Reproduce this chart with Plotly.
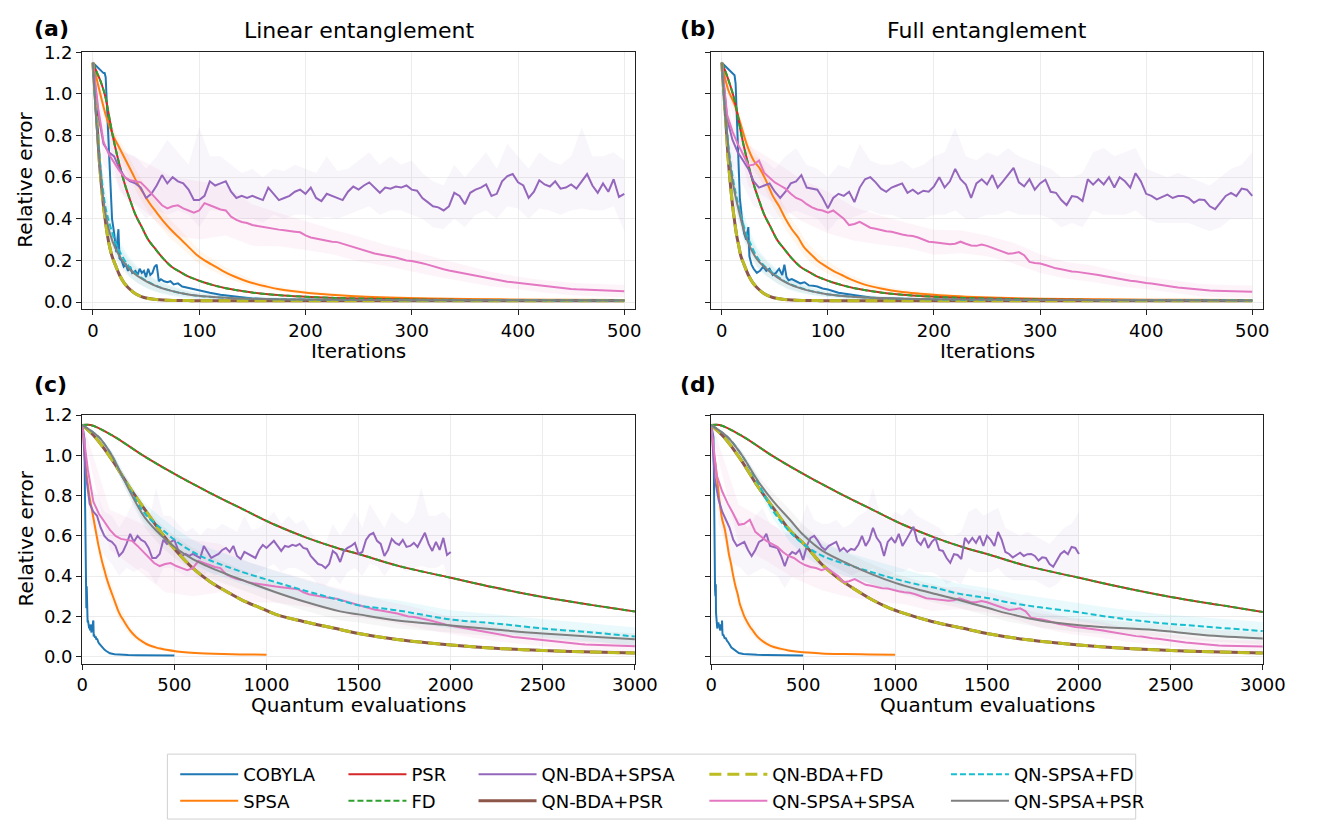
import numpy as np
import plotly.graph_objects as go

# ---------------- data ----------------
evals_per_iter = {"COBYLA": 1, "SPSA": 2, "QN-BDA+SPSA": 4, "QN-SPSA+SPSA": 6}

# --- panel (a): linear entanglement, vs iterations ---
cob_a_it = [0,2,4,6,8,10,11,12,14,16,18,20,22,24,25,27,29,31,33,35,37,40,42,44,46,48,50,52,54,56,58,60,62,64,67,70,73,76,80,84,88,92,96,100,110,120,130,140,150,175,200,250,300,400,500]
cob_a_err = [1.15,1.14,1.13,1.12,1.11,1.10,1.10,1.08,0.85,0.60,0.40,0.33,0.24,0.35,0.21,0.20,0.17,0.18,0.15,0.17,0.14,0.15,0.13,0.16,0.14,0.15,0.12,0.16,0.13,0.14,0.17,0.18,0.10,0.11,0.10,0.095,0.10,0.085,0.09,0.075,0.07,0.065,0.06,0.055,0.045,0.035,0.028,0.022,0.017,0.012,0.01,0.008,0.007,0.006,0.006]

spsa_a_it = [0,6,12,19,25,31,37,43,49,54,60,66,73,81,89,97,105,112,122,132,142,151,163,174,187,201,215,228,257,286,335,383,440,500]
spsa_a_err = [1.15,1.02,0.9,0.80,0.74,0.68,0.62,0.56,0.51,0.47,0.43,0.39,0.35,0.31,0.27,0.23,0.20,0.18,0.15,0.125,0.105,0.09,0.075,0.063,0.053,0.045,0.039,0.034,0.026,0.021,0.016,0.013,0.011,0.01]
spsa_a_sd = [0,0.02,0.03,0.035,0.04,0.045,0.05,0.05,0.05,0.05,0.05,0.045,0.045,0.04,0.04,0.035,0.03,0.03,0.025,0.02,0.02,0.015,0.015,0.012,0.01,0.01,0.008,0.008,0.006,0.005,0.004,0.003,0.003,0.003]

psr_a_it = [0,4,8,12,16,19,23,27,31,35,40,46,52,58,66,74,82,89,96,104,114,124,137,151,170,190,210,228,260,306,360,420,500]
psr_a_err = [1.15,1.10,1.05,0.98,0.87,0.79,0.70,0.62,0.55,0.49,0.42,0.36,0.30,0.26,0.21,0.17,0.145,0.125,0.11,0.095,0.08,0.068,0.056,0.045,0.035,0.028,0.023,0.02,0.016,0.012,0.01,0.009,0.008]

qbp_a_it = [0,2,4,6,8,10,12,14,16,18,21,25,29,34,40,48,57,70,90,120,200,300,500]
qbp_a_err = [1.15,1.0,0.85,0.68,0.56,0.46,0.38,0.31,0.26,0.22,0.18,0.13,0.095,0.065,0.04,0.022,0.014,0.009,0.007,0.006,0.006,0.006,0.006]

qs_a_it = [0,3,6,9,12,16,21,27,34,42,52,62,73,86,99,120,150,200,300,500]
qsp_a_err = [1.15,0.88,0.68,0.52,0.42,0.33,0.26,0.205,0.16,0.125,0.095,0.072,0.055,0.04,0.03,0.022,0.016,0.012,0.009,0.008]
qsp_a_sd = [0,0.03,0.05,0.06,0.06,0.06,0.05,0.05,0.04,0.035,0.03,0.025,0.02,0.015,0.012,0.01,0.008,0.005,0.003,0.002]
qsf_a_err = [1.15,0.9,0.71,0.56,0.45,0.37,0.29,0.225,0.17,0.13,0.097,0.073,0.055,0.04,0.03,0.022,0.016,0.012,0.009,0.008]
qsf_a_sd = [0,0.04,0.07,0.08,0.08,0.07,0.06,0.05,0.045,0.04,0.035,0.03,0.025,0.02,0.015,0.012,0.01,0.006,0.004,0.003]

iters5 = list(range(0, 501, 5))
iters10 = list(range(0, 501, 10))
iters25 = list(range(0, 501, 25))

qbs_a_err = [1.15,0.90,0.76,0.72,0.70,0.64,0.60,0.58,0.57,0.55,0.50,0.52,0.56,0.61,0.57,0.60,0.58,0.57,0.54,0.49,
             0.49,0.51,0.58,0.56,0.57,0.58,0.53,0.50,0.51,0.50,0.51,0.50,0.49,0.55,0.52,0.49,0.50,0.51,0.53,0.54,
             0.52,0.55,0.50,0.485,0.52,0.51,0.50,0.49,0.53,0.555,0.54,0.56,0.575,0.55,0.525,0.55,0.545,0.555,0.55,0.56,
             0.54,0.535,0.50,0.48,0.46,0.455,0.44,0.46,0.525,0.51,0.47,0.525,0.54,0.55,0.565,0.51,0.52,0.58,0.605,0.615,
             0.575,0.56,0.50,0.53,0.585,0.565,0.555,0.58,0.545,0.55,0.565,0.545,0.58,0.615,0.56,0.525,0.57,0.53,0.59,0.505,0.52]
qbs_a_hi = [1.18,0.86,0.80,0.72,0.70,0.64,0.70,0.78,0.72,0.66,0.84,0.70,0.70,0.66,0.62,0.64,0.60,0.64,0.63,0.66,
            0.64,0.62,0.70,0.63,0.64,0.68,0.72,0.66,0.70,0.66,0.68,0.62,0.58,0.56,0.66,0.60,0.66,0.72,0.64,0.76,
            0.70,0.64,0.72,0.68,0.66,0.70,0.84,0.70,0.70,0.72,0.68]
qbs_a_lo = [1.12,0.66,0.60,0.50,0.46,0.40,0.44,0.42,0.44,0.42,0.36,0.44,0.44,0.42,0.40,0.40,0.38,0.42,0.40,0.42,
            0.42,0.40,0.41,0.40,0.42,0.44,0.46,0.42,0.44,0.44,0.42,0.40,0.36,0.35,0.40,0.36,0.42,0.44,0.40,0.46,
            0.45,0.40,0.45,0.44,0.42,0.44,0.45,0.44,0.44,0.46,0.34]

qss_a_err = [1.15,0.93,0.77,0.71,0.67,0.63,0.60,0.585,0.58,0.575,0.55,0.52,0.49,0.465,0.45,0.46,0.465,0.45,0.44,0.43,
             0.44,0.475,0.465,0.455,0.445,0.44,0.41,0.395,0.385,0.38,0.37,0.365,0.36,0.355,0.35,0.348,0.345,0.34,0.338,0.335,
             0.32,0.31,0.305,0.297,0.293,0.29,0.288,0.28,0.27,0.262,0.255,0.247,0.24,0.233,0.229,0.225,0.22,0.214,0.207,0.2,
             0.197,0.19,0.186,0.18,0.172,0.165,0.158,0.152,0.147,0.142,0.138,0.132,0.126,0.12,0.115,0.11,0.105,0.101,0.098,0.095,
             0.092,0.088,0.085,0.081,0.078,0.075,0.072,0.069,0.067,0.065,0.063,0.061,0.06,0.058,0.057,0.056,0.055,0.054,0.053,0.052,0.052]
qss_a_sd = [0.02,0.10,0.12,0.14,0.14,0.12,0.10,0.08,0.07,0.06,0.06,0.05,0.05,0.045,0.04,0.035,0.03,0.03,0.03,0.03,0.03]

# --- panel (b): full entanglement, vs iterations ---
cob_b_it = [0,2,4,6,8,10,12,13,15,17,19,21,23,25,26,28,30,33,36,39,42,45,48,51,54,57,59,61,63,66,70,74,78,82,86,90,95,100,110,120,130,140,150,175,200,250,300,400,500]
cob_b_err = [1.15,1.14,1.13,1.12,1.11,1.10,1.09,1.05,0.75,0.50,0.40,0.33,0.30,0.36,0.22,0.18,0.16,0.14,0.15,0.17,0.15,0.16,0.13,0.14,0.16,0.13,0.18,0.12,0.105,0.11,0.10,0.09,0.095,0.08,0.078,0.075,0.065,0.06,0.045,0.038,0.028,0.022,0.018,0.013,0.011,0.009,0.008,0.007,0.006]

spsa_b_it = [0,6,12,18,24,30,36,42,48,54,60,66,72,78,84,90,97,105,113,121,134,150,170,187,210,230,260,300,360,430,500]
spsa_b_err = [1.15,1.02,0.95,0.85,0.75,0.68,0.64,0.58,0.51,0.46,0.40,0.35,0.31,0.26,0.23,0.2,0.175,0.15,0.13,0.11,0.085,0.065,0.048,0.04,0.031,0.026,0.021,0.016,0.013,0.011,0.01]
spsa_b_sd = [0,0.02,0.03,0.04,0.04,0.045,0.05,0.05,0.05,0.05,0.05,0.045,0.045,0.04,0.04,0.035,0.03,0.03,0.025,0.02,0.018,0.015,0.012,0.01,0.008,0.007,0.006,0.005,0.004,0.003,0.003]

psr_b_it = [0,4,8,12,16,19,23,27,31,35,40,46,52,58,66,74,82,89,96,104,114,124,137,151,170,190,210,228,260,306,360,420,500]
psr_b_err = [1.15,1.10,1.04,0.97,0.87,0.79,0.70,0.62,0.55,0.49,0.42,0.36,0.30,0.26,0.21,0.17,0.145,0.125,0.11,0.095,0.08,0.068,0.056,0.045,0.035,0.028,0.023,0.02,0.016,0.012,0.01,0.009,0.008]

qbp_b_it = [0,2,4,6,8,10,12,14,16,18,21,25,29,34,40,48,57,70,90,120,200,300,500]
qbp_b_err = [1.15,1.0,0.85,0.69,0.57,0.47,0.39,0.32,0.27,0.22,0.18,0.13,0.095,0.065,0.04,0.022,0.014,0.009,0.007,0.006,0.006,0.006,0.006]

qs_b_it = [0,3,6,9,12,16,21,27,34,42,52,62,73,86,99,120,150,200,300,500]
qsp_b_err = [1.15,0.92,0.75,0.62,0.53,0.44,0.34,0.26,0.2,0.16,0.12,0.09,0.068,0.05,0.038,0.027,0.019,0.013,0.01,0.008]
qsp_b_sd = [0,0.03,0.05,0.06,0.06,0.06,0.05,0.05,0.04,0.035,0.03,0.025,0.02,0.015,0.012,0.01,0.008,0.005,0.003,0.002]
qsf_b_err = [1.15,0.92,0.76,0.64,0.55,0.46,0.36,0.28,0.21,0.165,0.125,0.092,0.07,0.051,0.038,0.027,0.019,0.013,0.01,0.008]
qsf_b_sd = [0,0.04,0.07,0.08,0.08,0.07,0.06,0.05,0.045,0.04,0.035,0.03,0.025,0.02,0.015,0.012,0.01,0.006,0.004,0.003]

qbs_b_err = [1.15,0.88,0.78,0.72,0.68,0.64,0.58,0.55,0.56,0.57,0.53,0.50,0.53,0.57,0.58,0.61,0.55,0.545,0.54,0.50,
             0.45,0.50,0.52,0.51,0.53,0.48,0.55,0.59,0.60,0.575,0.545,0.53,0.55,0.56,0.57,0.525,0.54,0.52,0.535,0.53,
             0.556,0.60,0.55,0.58,0.64,0.59,0.565,0.50,0.57,0.59,0.565,0.61,0.55,0.58,0.61,0.645,0.575,0.556,0.59,0.54,
             0.57,0.588,0.53,0.525,0.49,0.466,0.509,0.505,0.485,0.59,0.564,0.59,0.565,0.60,0.55,0.60,0.58,0.55,0.619,0.58,
             0.52,0.51,0.493,0.505,0.516,0.50,0.509,0.51,0.50,0.477,0.493,0.49,0.46,0.446,0.477,0.51,0.524,0.509,0.545,0.54,0.51]
qbs_b_hi = [1.18,0.86,0.76,0.70,0.68,0.64,0.70,0.74,0.66,0.64,0.60,0.66,0.64,0.76,0.68,0.66,0.66,0.68,0.64,0.66,
            0.70,0.72,0.84,0.70,0.68,0.72,0.70,0.74,0.70,0.68,0.66,0.64,0.60,0.60,0.62,0.72,0.74,0.70,0.72,0.74,
            0.64,0.62,0.60,0.62,0.60,0.58,0.56,0.60,0.64,0.66,0.72]
qbs_b_lo = [1.12,0.66,0.56,0.46,0.44,0.40,0.42,0.44,0.42,0.40,0.34,0.40,0.40,0.42,0.44,0.42,0.42,0.40,0.40,0.40,
            0.42,0.42,0.44,0.40,0.40,0.42,0.42,0.44,0.42,0.42,0.42,0.40,0.36,0.38,0.36,0.44,0.42,0.42,0.42,0.44,
            0.40,0.38,0.38,0.38,0.38,0.36,0.34,0.36,0.40,0.40,0.40]

qss_b_err = [1.15,0.90,0.82,0.76,0.71,0.655,0.66,0.68,0.62,0.595,0.575,0.56,0.545,0.52,0.50,0.49,0.47,0.455,0.445,0.44,
             0.43,0.44,0.42,0.40,0.37,0.375,0.385,0.37,0.357,0.352,0.345,0.34,0.338,0.33,0.325,0.32,0.317,0.31,0.30,0.29,
             0.287,0.285,0.28,0.278,0.28,0.29,0.28,0.272,0.27,0.276,0.27,0.26,0.25,0.24,0.232,0.235,0.24,0.225,0.193,0.188,
             0.185,0.178,0.17,0.162,0.158,0.152,0.147,0.145,0.142,0.139,0.136,0.13,0.125,0.12,0.115,0.11,0.105,0.102,0.10,0.095,
             0.092,0.089,0.086,0.082,0.078,0.074,0.07,0.067,0.064,0.061,0.058,0.056,0.055,0.054,0.053,0.052,0.052,0.051,0.051,0.05,0.05]
qss_b_sd = [0.02,0.10,0.10,0.10,0.10,0.08,0.07,0.06,0.06,0.055,0.05,0.05,0.045,0.04,0.04,0.035,0.03,0.03,0.03,0.03,0.03]

# --- panels (c)/(d): vs quantum evaluations (gradient-based methods) ---
psr_c_ev = [0,46,160,340,515,690,870,1045,1220,1400,1500,1710,2000,2240,2500,2770,3000]
psr_c_err = [1.15,1.15,1.100,0.993,0.90,0.815,0.733,0.655,0.59,0.535,0.51,0.452,0.392,0.343,0.296,0.256,0.224]
psr_d_ev = [0,46,160,340,515,690,870,1045,1220,1400,1500,1710,2000,2240,2500,2770,3000]
psr_d_err = [1.15,1.15,1.100,0.993,0.90,0.815,0.733,0.655,0.59,0.535,0.51,0.452,0.392,0.343,0.296,0.256,0.222]

qbp_c_ev = [0,70,160,250,340,430,515,600,690,780,870,960,1050,1200,1400,1500,1710,2000,2240,2500,2770,3000]
qbp_c_err = [1.15,1.09,0.98,0.85,0.73,0.615,0.52,0.44,0.375,0.325,0.28,0.245,0.21,0.175,0.135,0.115,0.085,0.058,0.042,0.031,0.023,0.018]
qbp_d_err = [1.15,1.09,0.98,0.85,0.735,0.625,0.55,0.46,0.39,0.335,0.285,0.245,0.215,0.175,0.135,0.115,0.085,0.058,0.042,0.031,0.023,0.018]

qs_c_ev = [0,90,160,215,270,340,430,515,600,690,870,1050,1200,1400,1500,1710,2000,2240,2500,2770,3000]
qsp_c_err = [1.15,1.09,1.00,0.90,0.80,0.69,0.60,0.535,0.485,0.445,0.38,0.32,0.275,0.225,0.21,0.18,0.155,0.135,0.115,0.099,0.086]
qsp_c_sd = [0,0.01,0.02,0.03,0.04,0.05,0.055,0.055,0.055,0.055,0.05,0.05,0.045,0.045,0.04,0.04,0.035,0.035,0.03,0.03,0.03]
qsf_c_err = [1.15,1.09,1.00,0.90,0.81,0.71,0.635,0.57,0.52,0.48,0.42,0.37,0.33,0.28,0.255,0.23,0.185,0.165,0.14,0.12,0.10]
qsf_c_sd = [0,0.01,0.02,0.03,0.04,0.05,0.055,0.06,0.06,0.06,0.06,0.055,0.055,0.05,0.05,0.05,0.045,0.045,0.045,0.045,0.045]

qs_d_ev = [0,90,167,256,339,428,500,606,748,872,1005,1139,1227,1334,1511,1611,1789,2002,2144,2410,2677,3000]
qsp_d_err = [1.15,1.09,1.00,0.87,0.77,0.68,0.605,0.525,0.46,0.41,0.365,0.33,0.31,0.285,0.24,0.215,0.18,0.156,0.146,0.132,0.108,0.09]
qsp_d_sd = [0,0.01,0.02,0.03,0.04,0.05,0.05,0.05,0.05,0.05,0.045,0.045,0.045,0.04,0.04,0.04,0.035,0.035,0.035,0.03,0.03,0.03]
qsf_d_err = [1.15,1.09,1.00,0.86,0.72,0.62,0.56,0.50,0.455,0.42,0.385,0.355,0.34,0.315,0.29,0.27,0.245,0.22,0.20,0.17,0.15,0.127]
qsf_d_sd = [0,0.01,0.02,0.03,0.04,0.05,0.055,0.06,0.06,0.06,0.06,0.055,0.055,0.05,0.05,0.05,0.05,0.045,0.045,0.045,0.045,0.045]

x_ticks_it = [0, 100, 200, 300, 400, 500]
x_ticks_ev = [0, 500, 1000, 1500, 2000, 2500, 3000]
y_ticks = [0.0, 0.2, 0.4, 0.6, 0.8, 1.0, 1.2]

# ---------------- styling ----------------
W, H = 1324, 824
FONT = "DejaVu Sans"
STY = {
    "COBYLA":       dict(color="#1f77b4", width=2,   dash="solid",     legend="legend",  shape="linear"),
    "SPSA":         dict(color="#ff7f0e", width=2,   dash="solid",     legend="legend",  shape="spline"),
    "PSR":          dict(color="#d62728", width=2,   dash="solid",     legend="legend2", shape="spline"),
    "FD":           dict(color="#2ca02c", width=2,   dash="6px,3px",   legend="legend2", shape="spline"),
    "QN-BDA+SPSA":  dict(color="#9467bd", width=2,   dash="solid",     legend="legend3", shape="linear"),
    "QN-BDA+PSR":   dict(color="#8c564b", width=3,   dash="solid",     legend="legend3", shape="spline"),
    "QN-BDA+FD":    dict(color="#bcbd22", width=3,   dash="12px,6px",  legend="legend4", shape="spline"),
    "QN-SPSA+SPSA": dict(color="#e377c2", width=2,   dash="solid",     legend="legend4", shape="linear"),
    "QN-SPSA+FD":   dict(color="#17becf", width=2,   dash="6px,3px",   legend="legend5", shape="spline"),
    "QN-SPSA+PSR":  dict(color="#7f7f7f", width=2,   dash="solid",     legend="legend5", shape="spline"),
}

def rgba(hexc, a):
    h = hexc.lstrip("#")
    return "rgba(%d,%d,%d,%.3f)" % (int(h[0:2], 16), int(h[2:4], 16), int(h[4:6], 16), a)

fig = go.Figure()

def band(ax, x, lo, hi, name, alpha=0.10):
    x = list(x)
    fig.add_trace(go.Scatter(
        x=x + x[::-1], y=list(lo) + list(hi)[::-1], xaxis="x" + ax, yaxis="y" + ax,
        fill="toself", fillcolor=rgba(STY[name]["color"], alpha), line=dict(width=0),
        mode="lines", hoverinfo="skip", showlegend=False))

def band_sd(ax, x, m, sd, name, alpha=0.10):
    m = np.array(m); sd = np.array(sd)
    band(ax, x, m - sd, m + sd, name, alpha)

def line(ax, x, y, name, show=False):
    s = STY[name]
    fig.add_trace(go.Scatter(
        x=list(x), y=list(y), xaxis="x" + ax, yaxis="y" + ax, mode="lines", name=name,
        line=dict(color=s["color"], width=s["width"], dash=s["dash"], shape=s["shape"]),
        legend=s["legend"], legendgroup=name, showlegend=show))

def panel(ax, data, show):
    (cob_x, cob_y, sp_x, sp_y, sp_sd, psr_x, psr_y, qbs_x, qbs_y, qbs_bx, qbs_lo, qbs_hi,
     qbp_x, qbp_y, qss_x, qss_y, qss_bx, qss_bm, qss_sd, qs_x, qsf_y, qsf_sd, qsp_y, qsp_sd) = data
    band_sd(ax, sp_x, sp_y, sp_sd, "SPSA", 0.07)
    band(ax, qbs_bx, qbs_lo, qbs_hi, "QN-BDA+SPSA", 0.06)
    band_sd(ax, qss_bx, qss_bm, qss_sd, "QN-SPSA+SPSA", 0.08)
    band_sd(ax, qs_x, qsf_y, qsf_sd, "QN-SPSA+FD", 0.09)
    band_sd(ax, qs_x, qsp_y, qsp_sd, "QN-SPSA+PSR", 0.07)
    line(ax, cob_x, cob_y, "COBYLA", show)
    line(ax, sp_x, sp_y, "SPSA", show)
    line(ax, psr_x, psr_y, "PSR", show)
    line(ax, psr_x, psr_y, "FD", show)
    line(ax, qbs_x, qbs_y, "QN-BDA+SPSA", show)
    line(ax, qbp_x, qbp_y, "QN-BDA+PSR", show)
    line(ax, qbp_x, qbp_y, "QN-BDA+FD", show)
    line(ax, qss_x, qss_y, "QN-SPSA+SPSA", show)
    line(ax, qs_x, qsf_y, "QN-SPSA+FD", show)
    line(ax, qs_x, qsp_y, "QN-SPSA+PSR", show)

def ev(it, name):
    return np.array(it) * evals_per_iter[name]

qss_a_bm = qss_a_err[::5]
qss_b_bm = qss_b_err[::5]

panel("", (cob_a_it, cob_a_err, spsa_a_it, spsa_a_err, spsa_a_sd, psr_a_it, psr_a_err,
           iters5, qbs_a_err, iters10, qbs_a_lo, qbs_a_hi, qbp_a_it, qbp_a_err,
           iters5, qss_a_err, iters25, qss_a_bm, qss_a_sd,
           qs_a_it, qsf_a_err, qsf_a_sd, qsp_a_err, qsp_a_sd), True)
panel("2", (cob_b_it, cob_b_err, spsa_b_it, spsa_b_err, spsa_b_sd, psr_b_it, psr_b_err,
            iters5, qbs_b_err, iters10, qbs_b_lo, qbs_b_hi, qbp_b_it, qbp_b_err,
            iters5, qss_b_err, iters25, qss_b_bm, qss_b_sd,
            qs_b_it, qsf_b_err, qsf_b_sd, qsp_b_err, qsp_b_sd), False)
panel("3", (ev(cob_a_it, "COBYLA"), cob_a_err, ev(spsa_a_it, "SPSA"), spsa_a_err, spsa_a_sd,
            psr_c_ev, psr_c_err,
            ev(iters5, "QN-BDA+SPSA"), qbs_a_err, ev(iters10, "QN-BDA+SPSA"), qbs_a_lo, qbs_a_hi,
            qbp_c_ev, qbp_c_err,
            ev(iters5, "QN-SPSA+SPSA"), qss_a_err, ev(iters25, "QN-SPSA+SPSA"), qss_a_bm, qss_a_sd,
            qs_c_ev, qsf_c_err, qsf_c_sd, qsp_c_err, qsp_c_sd), False)
panel("4", (ev(cob_b_it, "COBYLA"), cob_b_err, ev(spsa_b_it, "SPSA"), spsa_b_err, spsa_b_sd,
            psr_d_ev, psr_d_err,
            ev(iters5, "QN-BDA+SPSA"), qbs_b_err, ev(iters10, "QN-BDA+SPSA"), qbs_b_lo, qbs_b_hi,
            qbp_c_ev, qbp_d_err,
            ev(iters5, "QN-SPSA+SPSA"), qss_b_err, ev(iters25, "QN-SPSA+SPSA"), qss_b_bm, qss_b_sd,
            qs_d_ev, qsf_d_err, qsf_d_sd, qsp_d_err, qsp_d_sd), False)

# ---------------- layout ----------------
def dx(a, b): return [a / W, b / W]
def dy(top, bot): return [1 - bot / H, 1 - top / H]

TICKF = dict(family=FONT, size=18, color="#000")
TITF = dict(family=FONT, size=20, color="#000")

def xax(domain, rng, ticks, anchor):
    return dict(domain=domain, range=rng, tickvals=ticks, anchor=anchor,
                showline=True, mirror=True, linecolor="#222", linewidth=1.3,
                ticks="outside", ticklen=5, tickwidth=1.2, tickcolor="#222",
                showgrid=True, gridcolor="#ececec", gridwidth=1, zeroline=False,
                tickfont=TICKF)

def yax(domain, anchor, labels):
    return dict(domain=domain, range=[-0.035, 1.2], tickvals=y_ticks, anchor=anchor,
                tickformat=".1f", showticklabels=labels,
                showline=True, mirror=True, linecolor="#222", linewidth=1.3,
                ticks="outside", ticklen=5, tickwidth=1.2, tickcolor="#222",
                showgrid=True, gridcolor="#ececec", gridwidth=1, zeroline=False,
                tickfont=TICKF)

top = dy(42, 303.5)
bot = dy(411, 664)
left = dx(78, 643)
right = dx(721, 1285)

legend_common = dict(orientation="v", yanchor="top", xanchor="left", y=1 - 758 / H,
                     bgcolor="rgba(0,0,0,0)", font=dict(family=FONT, size=18, color="#000"),
                     tracegroupgap=3, itemwidth=58, traceorder="normal")
leg_x = [173, 345, 478, 714, 961]

ann_font = dict(family=FONT, size=22, color="#000")

def txt(text, xp, yp, font, xanchor="center", angle=0):
    return dict(text=text, x=xp / W, y=1 - yp / H, xref="paper", yref="paper", showarrow=False,
                font=font, xanchor=xanchor, yanchor="middle", textangle=angle)

fig.update_layout(
    width=W, height=H, autosize=False,
    margin=dict(l=0, r=0, t=0, b=0),
    paper_bgcolor="white", plot_bgcolor="white",
    font=dict(family=FONT, color="#000"),
    xaxis=xax(left, [-10, 510], x_ticks_it, "y"),
    yaxis=yax(top, "x", True),
    xaxis2=xax(right, [-10, 510], x_ticks_it, "y2"),
    yaxis2=yax(top, "x2", False),
    xaxis3=xax(left, [0, 3000], x_ticks_ev, "y3"),
    yaxis3=yax(bot, "x3", True),
    xaxis4=xax(right, [0, 3000], x_ticks_ev, "y4"),
    yaxis4=yax(bot, "x4", False),
    legend=dict(legend_common, x=leg_x[0] / W),
    legend2=dict(legend_common, x=leg_x[1] / W),
    legend3=dict(legend_common, x=leg_x[2] / W),
    legend4=dict(legend_common, x=leg_x[3] / W),
    legend5=dict(legend_common, x=leg_x[4] / W),
    shapes=[dict(type="rect", xref="paper", yref="paper",
                 x0=165 / W, x1=1155 / W, y0=1 - 822 / H, y1=1 - 756 / H,
                 line=dict(color="#d0d0d0", width=1), fillcolor="rgba(255,255,255,0.8)", layer="below")],
    annotations=[
        txt("Linear entanglement", 360.5, 20, ann_font),
        txt("Full entanglement", 1003, 20, ann_font),
        txt("<b>(a)</b>", 27, 18, ann_font, "left"),
        txt("<b>(b)</b>", 687, 18, ann_font, "left"),
        txt("<b>(c)</b>", 27, 380, ann_font, "left"),
        txt("<b>(d)</b>", 687, 380, ann_font, "left"),
        txt("Iterations", 360.5, 346, TITF),
        txt("Iterations", 1003, 346, TITF),
        txt("Quantum evaluations", 360.5, 706, TITF),
        txt("Quantum evaluations", 1003, 706, TITF),
        txt("Relative error", 20, 172, TITF, "center", -90),
        txt("Relative error", 20, 537, TITF, "center", -90),
    ],
)

fig.write_html("out.html")
